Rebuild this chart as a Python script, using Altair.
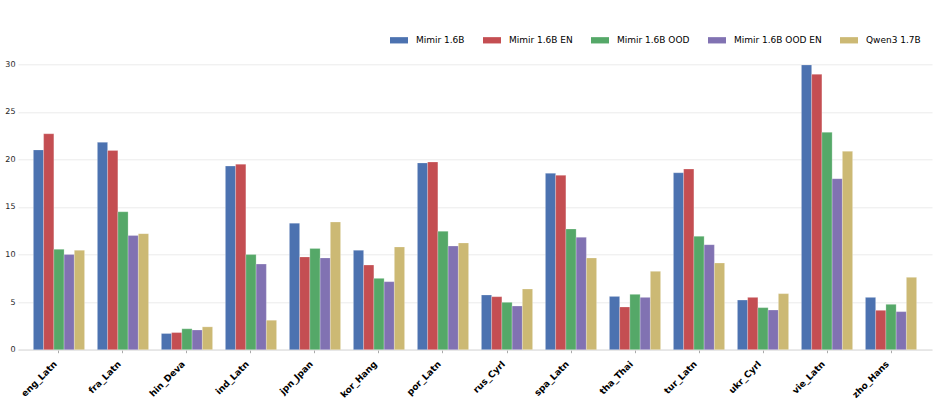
import altair as alt
import pandas as pd

languages = ["eng_Latn", "fra_Latn", "hin_Deva", "ind_Latn", "jpn_Jpan", "kor_Hang", "por_Latn",
             "rus_Cyrl", "spa_Latn", "tha_Thai", "tur_Latn", "ukr_Cyrl", "vie_Latn", "zho_Hans"]
models = ["Mimir 1.6B", "Mimir 1.6B EN", "Mimir 1.6B OOD", "Mimir 1.6B OOD EN", "Qwen3 1.7B"]
colors = ["#4C72B0", "#C44E52", "#55A868", "#8172B2", "#CCB974"]

mimir = [21.0, 21.8, 1.7, 19.3, 13.3, 10.45, 19.63, 5.75, 18.54, 5.6, 18.6, 5.22, 29.93, 5.5]
mimir_en = [22.7, 20.95, 1.8, 19.5, 9.75, 8.9, 19.73, 5.57, 18.33, 4.49, 18.99, 5.5, 28.95, 4.14]
mimir_ood = [10.55, 14.5, 2.2, 10.0, 10.65, 7.5, 12.45, 4.98, 12.69, 5.82, 11.92, 4.42, 22.85, 4.77]
mimir_ood_en = [10.0, 12.0, 2.07, 9.0, 9.65, 7.15, 10.9, 4.59, 11.81, 5.5, 11.04, 4.17, 17.98, 4.0]
qwen = [10.45, 12.2, 2.4, 3.1, 13.42, 10.8, 11.22, 6.38, 9.64, 8.24, 9.11, 5.89, 20.85, 7.61]

series = [mimir, mimir_en, mimir_ood, mimir_ood_en, qwen]
rows = []
for m, vals in zip(models, series):
    for lang, v in zip(languages, vals):
        rows.append({"lang": lang, "model": m, "value": v})
df = pd.DataFrame(rows)

FONT = "DejaVu Sans"

chart = alt.Chart(df).mark_bar(stroke="white", strokeWidth=0.4, strokeOpacity=0.6).encode(
    x=alt.X("lang:N", sort=languages, title=None,
            scale=alt.Scale(paddingInner=0.2, paddingOuter=0.24),
            axis=alt.Axis(labelAngle=-45, labelAlign="right", labelBaseline="bottom",
                          labelFont=FONT, labelFontWeight="bold", labelFontSize=9,
                          labelColor="#000000", labelPadding=13,
                          domainColor="#dddddd", tickColor="#aaaaaa", tickSize=3,
                          grid=False)),
    xOffset=alt.XOffset("model:N", sort=models),
    y=alt.Y("value:Q", title=None,
            scale=alt.Scale(domain=[0, 30], nice=False),
            axis=alt.Axis(values=[0, 5, 10, 15, 20, 25, 30], domain=False, ticks=False,
                          labelFont=FONT, labelFontSize=8, labelColor="#262626",
                          labelPadding=3, gridColor="#ebebeb", gridWidth=1)),
    color=alt.Color("model:N", sort=models,
                    scale=alt.Scale(domain=models, range=colors),
                    legend=alt.Legend(title=None, orient="none", direction="horizontal",
                                      legendX=372, legendY=-33,
                                      symbolType="M-1,-0.35H1V0.35H-1Z", symbolSize=324,
                                      symbolStrokeWidth=0, symbolOpacity=1,
                                      labelFont=FONT, labelFontSize=9, labelColor="#000000",
                                      labelOffset=8, columnPadding=18)),
).properties(
    width=914, height=285.4,
    autosize=alt.AutoSizeParams(type="none"),
    padding={"left": 18, "top": 64.3, "right": 7, "bottom": 50},
).configure_view(stroke=None)

chart.save("out.html", embed_options={"renderer": "svg", "actions": False})
